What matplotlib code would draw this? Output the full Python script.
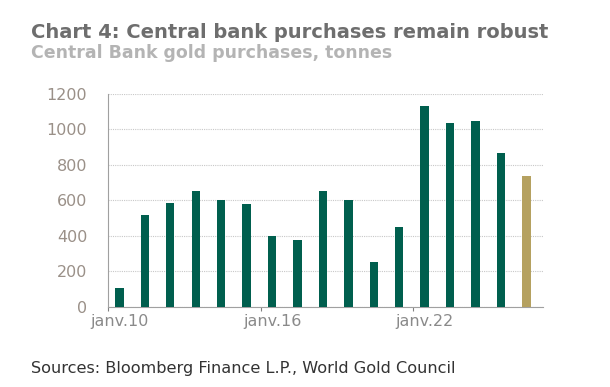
import numpy as np
from matplotlib import pyplot as plt

# donnees
annees = list(range(2010, 2027))
achats = [107, 517, 583, 654, 602, 579, 399, 378, 654, 604, 251, 449,
          1134, 1036, 1049, 868, 738]
couleurs = ["#005F4E"] * 16 + ["#B5A160"]
ticks_x = [2010, 2016, 2022]
labels_x = ["janv.10", "janv.16", "janv.22"]
ticks_y = [0, 200, 400, 600, 800, 1000, 1200]

fig = plt.figure(figsize=(6.1, 3.87), dpi=100)
ax = fig.add_axes([0.177, 0.2075, 0.713, 0.55])

x = np.array(annees) + 0.45
ax.bar(x, achats, width=0.33, color=couleurs, zorder=3)

ax.set_xlim(2010, 2027.1)
ax.set_ylim(0, 1200)
ax.set_yticks(ticks_y)
# traits aux debuts d'annee, libelles centres sur les barres
ax.set_xticks(ticks_x)
ax.set_xticklabels([])
ax.set_xticks([t + 0.45 for t in ticks_x], minor=True)
ax.set_xticklabels(labels_x, minor=True)
ax.yaxis.grid(True, linestyle=(0, (1, 1)), color="#C8C8C8", linewidth=0.8, zorder=0)

for cote in ["top", "right"]:
    ax.spines[cote].set_visible(False)
ax.spines["left"].set_color("#A0A0A0")
ax.spines["bottom"].set_color("#A0A0A0")
ax.tick_params(axis="y", length=0, pad=15, labelsize=11.5, labelcolor="#9A9088")
ax.tick_params(axis="x", which="major", length=3, color="#808080")
ax.tick_params(axis="x", which="minor", length=0, pad=5, labelsize=11.5, labelcolor="#8A8A8A")

fig.text(0.051, 0.9026, "Chart 4: Central bank purchases remain robust",
         weight="bold", fontsize=14, color="#6E6E6E", va="baseline")
fig.text(0.051, 0.851, "Central Bank gold purchases, tonnes",
         weight="bold", fontsize=12.5, color="#B4B4B4", va="baseline")
fig.text(0.051, 0.0354, "Sources: Bloomberg Finance L.P., World Gold Council",
         fontsize=11.6, color="#333333", va="baseline")

plt.savefig("out.png", dpi=100)
